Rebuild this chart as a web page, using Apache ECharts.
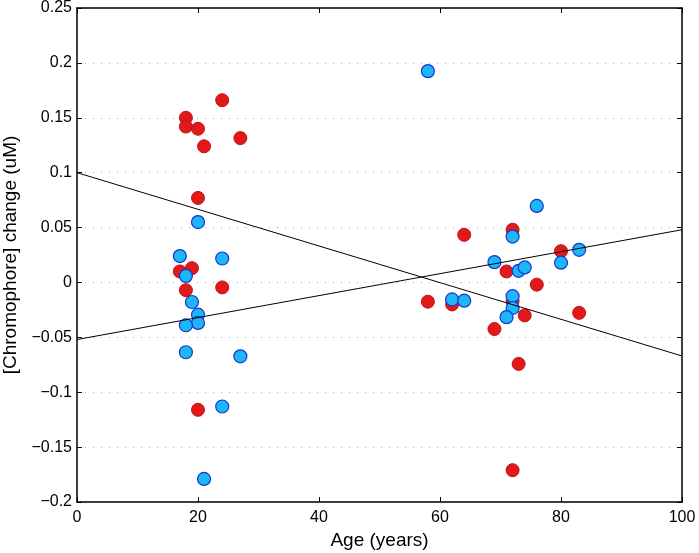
<!DOCTYPE html>
<html>
<head>
<meta charset="utf-8">
<script src="https://cdn.jsdelivr.net/npm/echarts@6/dist/echarts.min.js"></script>
<style>
html,body{margin:0;padding:0;background:#fff;}
#chart{width:699px;height:553px;}
</style>
</head>
<body>
<div id="chart"></div>
<script>
// Red group (ages, values)
const redAge = [24, 18, 18, 20, 21, 27, 20, 19, 17, 18, 24, 20,
                58, 62, 64, 72, 80, 71, 76, 72, 74, 83, 69, 73, 72];
const redVal = [0.166, 0.150, 0.142, 0.140, 0.124, 0.1315, 0.077, 0.013, 0.010, -0.007, -0.0045, -0.116,
                -0.0175, -0.020, 0.0434, 0.048, 0.0285, 0.010, -0.002, -0.017, -0.030, -0.0277, -0.0424, -0.0742, -0.171];
// Blue group (ages, values)
const blueAge = [17, 24, 20, 18, 19, 20, 20, 18, 18, 27, 24, 21,
                 58, 76, 72, 80, 83, 69, 73, 74, 62, 64, 72, 72, 71];
const blueVal = [0.024, 0.0218, 0.055, 0.006, -0.0178, -0.0294, -0.0369, -0.039, -0.0636, -0.0673, -0.113, -0.179,
                 0.1925, 0.0697, 0.0418, 0.018, 0.0297, 0.0185, 0.0106, 0.0137, -0.0155, -0.0166, -0.0125, -0.0233, -0.0316];
// Fit lines (endpoints at age 0 and 100)
const fitAge = [0, 100];
const redFit = [0.100, -0.067];
const blueFit = [-0.052, 0.048];
const xTicks = [0, 20, 40, 60, 80, 100];
const yTicks = [-0.2, -0.15, -0.1, -0.05, 0, 0.05, 0.1, 0.15, 0.2, 0.25];

const zip = (a, b) => a.map((v, i) => [v, b[i]]);
const fmtY = v => {
  const r = Math.round(v * 100) / 100;
  if (Math.abs(r) < 1e-9) return '0';
  return (r < 0 ? '\u2212' : '') + String(Math.abs(r));
};
const font = 'Liberation Sans, Arial, Helvetica, sans-serif';

const chart = echarts.init(document.getElementById('chart'));
const axisBase = {
  axisLine: {show: true, onZero: false, lineStyle: {color: '#000', width: 1.5}},
  axisTick: {show: true, inside: true, length: 5, lineStyle: {color: '#000', width: 1}},
};
chart.setOption({
  animation: false,
  backgroundColor: '#fff',
  grid: {left: 77, right: 17, top: 8, bottom: 51, containLabel: false, outerBoundsMode: 'none'},
  xAxis: [
    Object.assign({
      type: 'value', min: 0, max: 100, interval: 20, position: 'bottom',
      name: 'Age (years)', nameLocation: 'middle', nameGap: 28,
      nameTextStyle: {fontFamily: font, fontSize: 19, color: '#000'},
      axisLabel: {fontFamily: font, fontSize: 16, color: '#000', margin: 8},
      splitLine: {show: false}
    }, axisBase),
    Object.assign({
      type: 'value', min: 0, max: 100, interval: 20, position: 'top',
      axisLabel: {show: false}, splitLine: {show: false}
    }, axisBase)
  ],
  yAxis: [
    Object.assign({
      type: 'value', min: -0.2, max: 0.25, interval: 0.05, position: 'left',
      name: '[Chromophore] change (uM)', nameLocation: 'middle', nameGap: 57,
      nameTextStyle: {fontFamily: font, fontSize: 19, color: '#000'},
      axisLabel: {fontFamily: font, fontSize: 16, color: '#000', margin: 5, formatter: fmtY},
      splitLine: {show: true, lineStyle: {color: '#aaa', type: [1, 7], width: 1}}
    }, axisBase),
    Object.assign({
      type: 'value', min: -0.2, max: 0.25, interval: 0.05, position: 'right',
      axisLabel: {show: false}, splitLine: {show: false}
    }, axisBase)
  ],
  series: [
    {
      type: 'scatter', name: 'red', data: zip(redAge, redVal), symbol: 'circle', symbolSize: 13,
      itemStyle: {color: '#e2191b', borderColor: '#c41010', borderWidth: 1, opacity: 1}, z: 2
    },
    {
      type: 'scatter', name: 'blue', data: zip(blueAge, blueVal), symbol: 'circle', symbolSize: 13,
      itemStyle: {color: '#1db6f6', borderColor: '#1436d0', borderWidth: 1.2, opacity: 1}, z: 3
    },
    {
      type: 'line', data: zip(fitAge, redFit), symbol: 'none', silent: true,
      lineStyle: {color: '#000', width: 1}, z: 4
    },
    {
      type: 'line', data: zip(fitAge, blueFit), symbol: 'none', silent: true,
      lineStyle: {color: '#000', width: 1}, z: 4
    }
  ]
});
</script>
</body>
</html>
